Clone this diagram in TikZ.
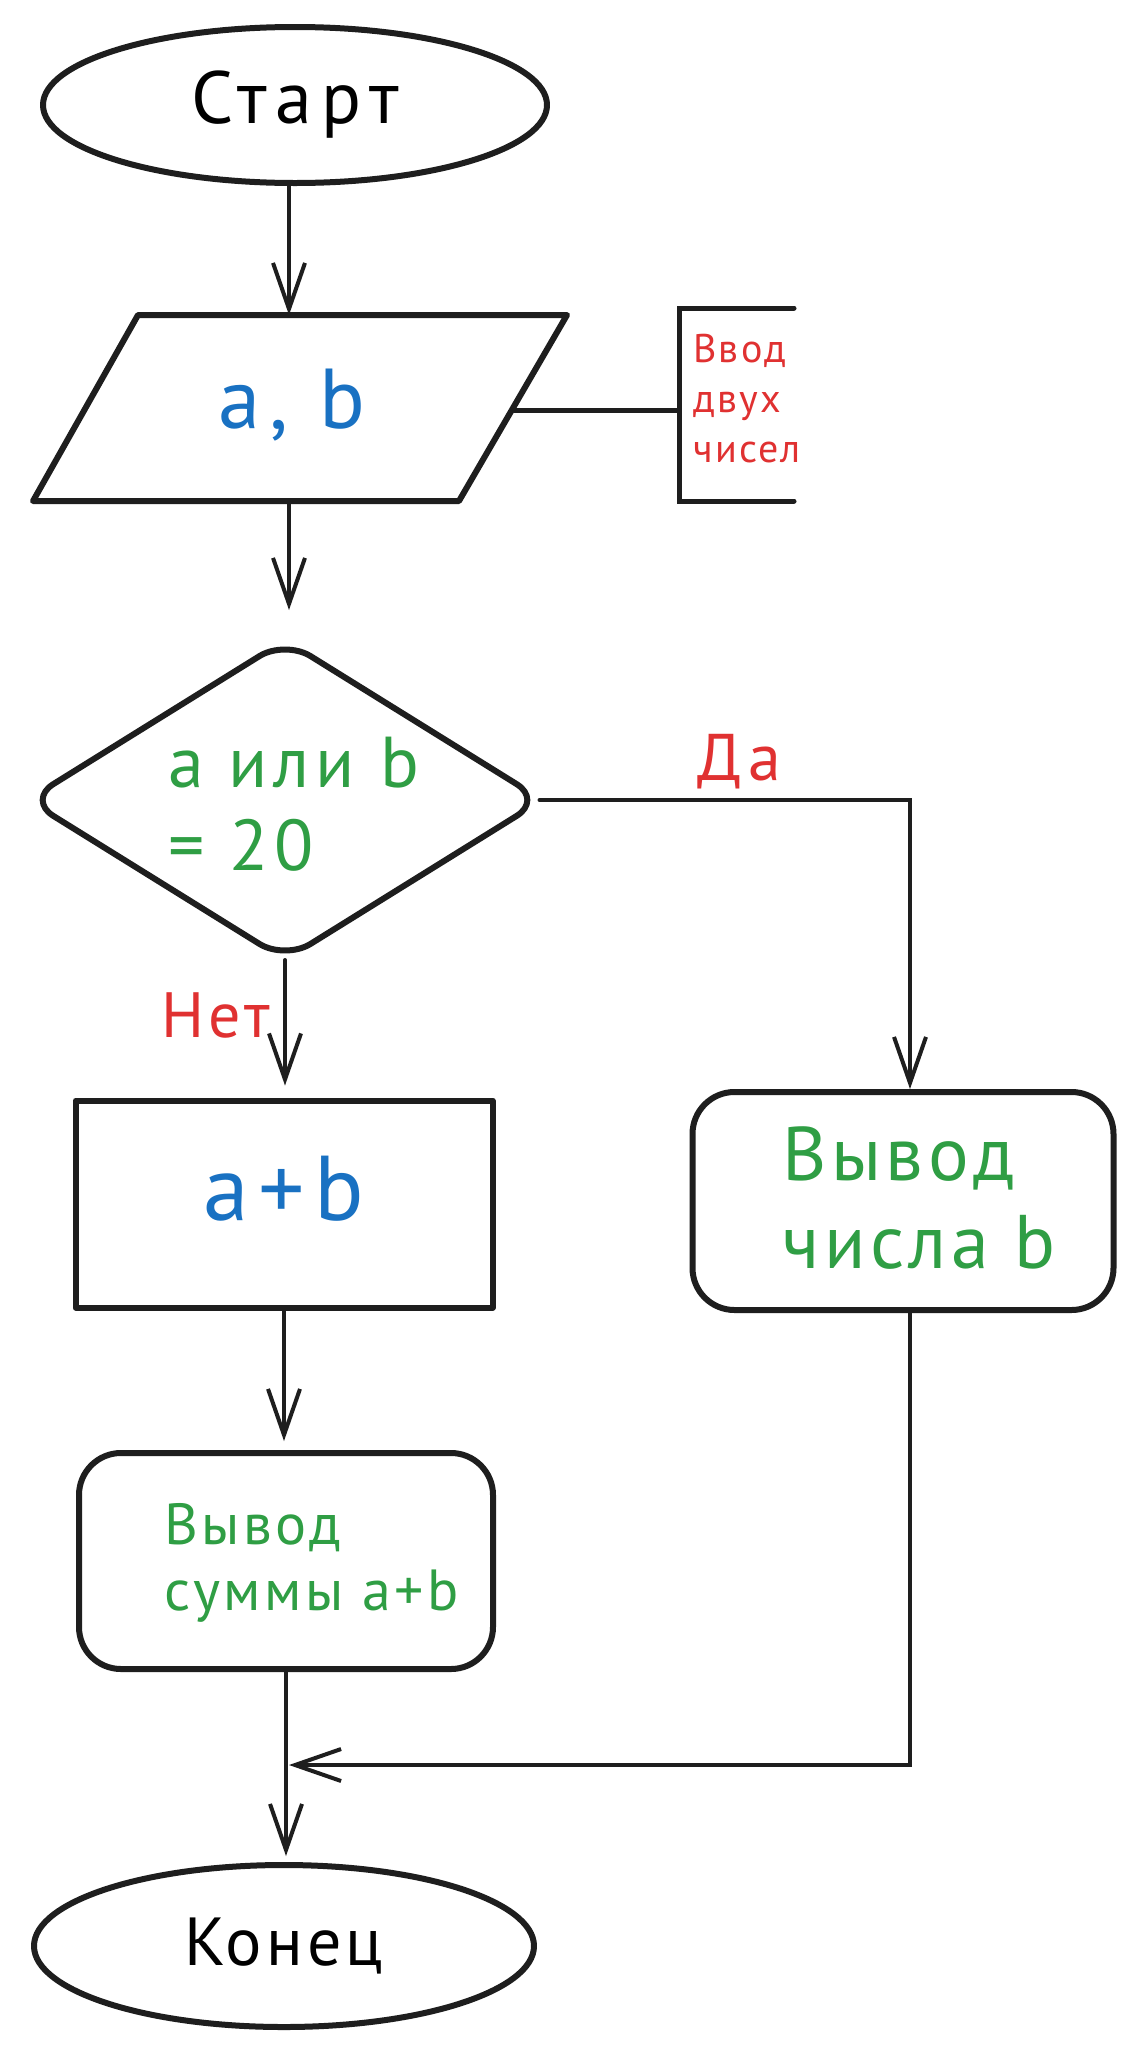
\documentclass[tikz,border=0pt]{standalone}
\usepackage{fontspec}
\setmainfont{PT Sans}[LetterSpace=6]
\usetikzlibrary{arrows.meta,shapes.geometric}
\definecolor{ink}{HTML}{1E1E1E}
\definecolor{cblue}{HTML}{1971C2}
\definecolor{cgreen}{HTML}{2F9E44}
\definecolor{cred}{HTML}{E03131}
\begin{document}
\begin{tikzpicture}[x=1pt,y=-1pt,
  shapeline/.style={draw=ink, line width=6pt, line join=round, line cap=round, inner sep=0pt},
  conn/.style={draw=ink, line width=4pt, line cap=round,
    -{Straight Barb[length=46pt,width=32pt,line width=4pt]}},
  plainline/.style={draw=ink, line width=5pt, line cap=round},
  lbl/.style={inner sep=0pt, align=left, anchor=base west},
]
\useasboundingbox (0,0) rectangle (1130,2059);
\fill[white] (0,0) rectangle (1130,2059);

% start
\node[ellipse, shapeline, minimum width=504pt, minimum height=156pt,
  font=\fontsize{74}{80}\selectfont\addfontfeatures{LetterSpace=12}] (start) at (295,105) {Старт};

% input parallelogram
\coordinate (inTL) at (138,315);
\coordinate (inTR) at (567,315);
\coordinate (inBR) at (459,501);
\coordinate (inBL) at (33,501);
\coordinate (intop) at (289,315);
\coordinate (inbot) at (289,501);
\coordinate (inright) at (514,410);
\draw[shapeline] (inTL) -- (inTR) -- (inBR) -- (inBL) -- cycle;
\node[inner sep=0pt, text=cblue, font=\fontsize{85}{90}\selectfont\addfontfeatures{LetterSpace=10}] (inp) at (292,405) {a, b};

% annotation bracket
\coordinate (brk) at (679,410);
\coordinate (brkT) at (794,308);
\coordinate (brkB) at (794,501);
\draw[plainline] (inright) -- (brk);
\draw[plainline, line join=miter] (brkT) -- (679,308) -- (679,501) -- (brkB);
\node[lbl, text=cred, font=\fontsize{40}{50}\selectfont] (note) at (693,462)
  {Ввод\\двух\\чисел};

% decision
\node[diamond, shapeline, rounded corners=30pt, minimum width=517pt, minimum height=322pt] (dec) at (285,800) {};
\node[lbl, text=cgreen, font=\fontsize{72}{83}\selectfont\addfontfeatures{LetterSpace=8}] (cond) at (168,870)
  {a или b\\= 20};

% a+b process
\node[rectangle, shapeline, minimum width=417pt, minimum height=207pt] (sum) at (284,1204) {};
\node[inner sep=0pt, anchor=base, text=cblue, font=\fontsize{92}{96}\selectfont\addfontfeatures{LetterSpace=10}] (sumtxt) at (284,1220) {a+b};

% output b
\node[rectangle, shapeline, rounded corners=42pt, minimum width=421pt, minimum height=218pt] (outb) at (903,1201) {};
\node[lbl, text=cgreen, font=\fontsize{76}{88}\selectfont] (outbtxt) at (782,1268)
  {Вывод\\числа b};

% output sum
\node[rectangle, shapeline, rounded corners=42pt, minimum width=414pt, minimum height=216pt] (outsum) at (286,1561) {};
\node[lbl, text=cgreen, font=\fontsize{58}{66}\selectfont] (outsumtxt) at (164,1610)
  {Вывод\\суммы a+b};

% end
\node[ellipse, shapeline, minimum width=500pt, minimum height=162pt,
  font=\fontsize{68}{76}\selectfont] (fin) at (284,1946) {Конец};

% connectors
\draw[conn] (intop |- start.south) -- (intop);
\draw[conn, shorten >=26pt] (inbot) -- (inbot |- dec.north);
\draw[conn] ([xshift=-7pt]dec.east) -| ([xshift=7pt]outb.north);
\node[inner sep=0pt, text=cred, font=\fontsize{66}{70}\selectfont\addfontfeatures{LetterSpace=10}] (yes) at (739,762) {Да};
\draw[conn, shorten >=12pt] ([yshift=4pt]dec.south) -- (dec.south |- sum.north);
\node[inner sep=0pt, text=cred, font=\fontsize{64}{70}\selectfont] (no) at (216,1015) {Нет};
\draw[conn, shorten >=9pt] (sum.south) -- (sum.south |- outsum.north);
\draw[conn, shorten >=6pt] (outsum.south) -- (outsum.south |- fin.north);
\coordinate (join) at (289,1765);
\draw[conn] ([xshift=7pt]outb.south) |- (join);
\end{tikzpicture}
\end{document}
